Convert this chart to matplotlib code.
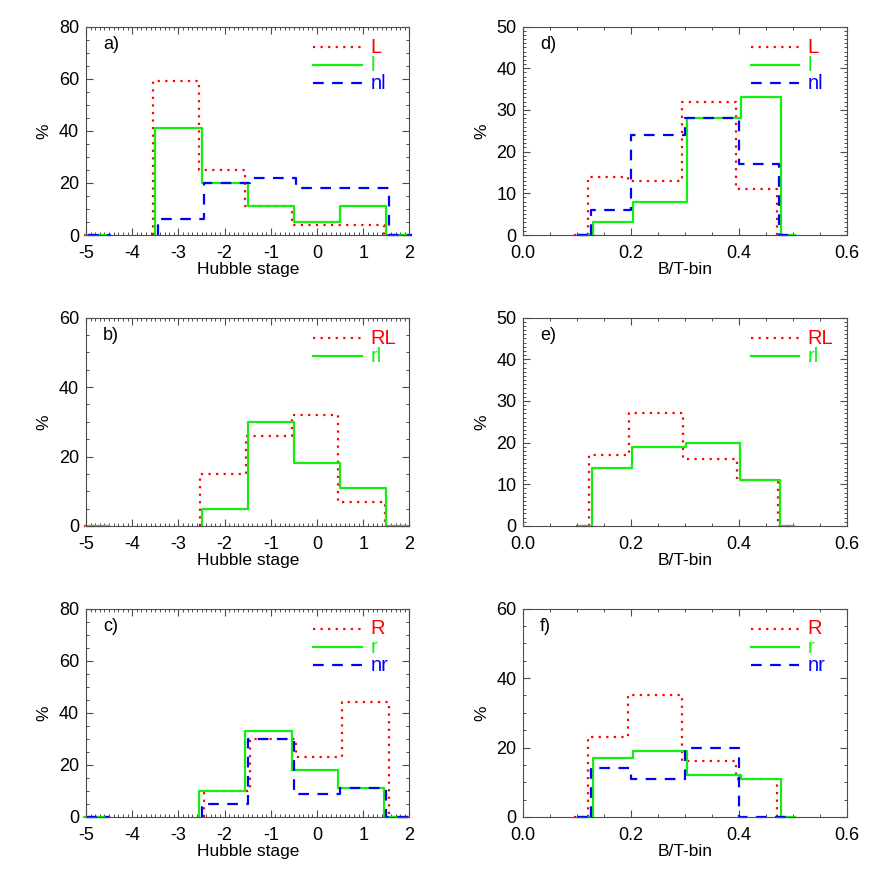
import numpy as np
import matplotlib
matplotlib.use('Agg')
from matplotlib import pyplot as plt
from matplotlib.ticker import MultipleLocator, FormatStrFormatter

plt.rcParams['font.family'] = ['Liberation Sans', 'DejaVu Sans']
plt.rcParams['axes.unicode_minus'] = False

# bin edges
hub_edges_a = [-3.5, -2.5, -1.5, -0.5, 0.5, 1.5]
hub_edges_bc = [-2.5, -1.5, -0.5, 0.5, 1.5]
bt_edges = [0.125, 0.2, 0.3, 0.4, 0.475]

# a) Hubble stage, L / l / nl
L_hub = [59, 25, 11, 4, 4]
l_hub = [41, 20, 11, 5, 11]
nl_hub = [6, 20, 22, 18, 18]
# b) Hubble stage, RL / rl
RL_hub = [15, 26, 32, 7]
rl_hub = [5, 30, 18, 11]
# c) Hubble stage, R / r / nr
R_hub = [10, 30, 23, 44]
r_hub = [10, 33, 18, 11]
nr_hub = [5, 30, 9, 11]
# d) B/T, L / l / nl
L_bt = [14, 13, 32, 11]
l_bt = [3, 8, 28, 33]
nl_bt = [6, 24, 28, 17]
# e) B/T, RL / rl
RL_bt = [17, 27, 16, 11]
rl_bt = [14, 19, 20, 11]
# f) B/T, R / r / nr
R_bt = [23, 35, 16, 11]
r_bt = [17, 19, 12, 11]
nr_bt = [14, 11, 20, 0]

RED = '#ff0000'
GREEN = '#11f011'
BLUE = '#0000ff'
styles = {
	'red': dict(color=RED, lw=1.6, linestyle=(0, (1, 2.4)), dash_capstyle='butt'),
	'green': dict(color=GREEN, lw=1.6, linestyle='-'),
	'blue': dict(color=BLUE, lw=1.6, linestyle=(0, (4.8, 3.8))),
}

def step_line(ax, edges, vals, xmin, xmax, tail, off, st):
	xs = [edges[0]]
	ys = [0]
	for i in range(len(vals)):
		xs += [edges[i], edges[i+1]]
		ys += [vals[i], vals[i]]
	xs += [edges[-1], xmax]
	ys += [0, 0]
	xs = np.array(xs) + off
	ax.plot(xs, ys, clip_on=False, **styles[st])
	ax.plot([xmin+off, xmin+tail+off], [0, 0], clip_on=False, **styles[st])

def legend(ax, names, sts):
	ys = [0.902, 0.814, 0.727]
	for i in range(len(names)):
		ax.plot([0.703, 0.853], [ys[i], ys[i]], transform=ax.transAxes, **styles[sts[i]])
		ax.text(0.879, ys[i], names[i], transform=ax.transAxes, color=styles[sts[i]]['color'],
			fontsize=14.5, va='center', ha='left')

def setup(ax, hubble, ymax, ymaj, ymin_, tag):
	if hubble:
		ax.set_xlim(-5, 2)
		ax.xaxis.set_major_locator(MultipleLocator(1))
		ax.xaxis.set_minor_locator(MultipleLocator(0.1))
		ax.set_xlabel('Hubble stage', fontsize=12.5, labelpad=0)
	else:
		ax.set_xlim(0, 0.6)
		ax.xaxis.set_major_locator(MultipleLocator(0.2))
		ax.xaxis.set_minor_locator(MultipleLocator(0.05))
		ax.xaxis.set_major_formatter(FormatStrFormatter('%.1f'))
		ax.set_xlabel('B/T-bin', fontsize=12.5, labelpad=0)
	ax.set_ylim(0, ymax)
	ax.yaxis.set_major_locator(MultipleLocator(ymaj))
	ax.yaxis.set_minor_locator(MultipleLocator(ymin_))
	ax.set_ylabel('%', fontsize=12.5, labelpad=5)
	ax.tick_params(which='both', direction='in', top=True, right=True, color='0.3')
	ax.tick_params(which='major', length=5, width=0.8, labelsize=13, pad=7)
	ax.tick_params(axis='y', which='major', pad=5)
	ax.tick_params(which='minor', length=2.5, width=0.7)
	for s in ax.spines.values():
		s.set_color('0.3')
		s.set_linewidth(0.8)
	ax.text(0.052, 0.915, tag, transform=ax.transAxes, fontsize=13, va='center', ha='left')

fig = plt.figure(figsize=(8.72, 8.72), dpi=100)
lefts = [0.0986, 0.600]
bottoms = [0.7305, 0.3968, 0.0631]
w = 0.371
h = 0.239

# a)
ax = fig.add_axes([lefts[0], bottoms[0], w, h])
setup(ax, True, 80, 20, 5, 'a)')
step_line(ax, hub_edges_a, L_hub, -5, 2, 0.5, -0.05, 'red')
step_line(ax, hub_edges_a, l_hub, -5, 2, 0.5, 0.0, 'green')
step_line(ax, hub_edges_a, nl_hub, -5, 2, 0.5, 0.05, 'blue')
legend(ax, ['L', 'l', 'nl'], ['red', 'green', 'blue'])

# b)
ax = fig.add_axes([lefts[0], bottoms[1], w, h])
setup(ax, True, 60, 20, 5, 'b)')
step_line(ax, hub_edges_bc, RL_hub, -5, 2, 0.5, -0.04, 'red')
step_line(ax, hub_edges_bc, rl_hub, -5, 2, 0.5, 0.0, 'green')
legend(ax, ['RL', 'rl'], ['red', 'green'])

# c)
ax = fig.add_axes([lefts[0], bottoms[2], w, h])
setup(ax, True, 80, 20, 5, 'c)')
step_line(ax, hub_edges_bc, R_hub, -5, 2, 0.5, 0.05, 'red')
step_line(ax, hub_edges_bc, r_hub, -5, 2, 0.5, -0.05, 'green')
step_line(ax, hub_edges_bc, nr_hub, -5, 2, 0.5, 0.0, 'blue')
legend(ax, ['R', 'r', 'nr'], ['red', 'green', 'blue'])

# d)
ax = fig.add_axes([lefts[1], bottoms[0], w, h])
setup(ax, False, 50, 10, 1, 'd)')
step_line(ax, bt_edges, L_bt, 0.1, 0.5, 0.025, -0.005, 'red')
step_line(ax, bt_edges, l_bt, 0.1, 0.5, 0.025, 0.004, 'green')
step_line(ax, bt_edges, nl_bt, 0.1, 0.5, 0.025, 0.0, 'blue')
legend(ax, ['L', 'l', 'nl'], ['red', 'green', 'blue'])

# e)
ax = fig.add_axes([lefts[1], bottoms[1], w, h])
setup(ax, False, 50, 10, 1, 'e)')
step_line(ax, bt_edges, RL_bt, 0.1, 0.5, 0.025, -0.003, 'red')
step_line(ax, bt_edges, rl_bt, 0.1, 0.5, 0.025, 0.002, 'green')
legend(ax, ['RL', 'rl'], ['red', 'green'])

# f)
ax = fig.add_axes([lefts[1], bottoms[2], w, h])
setup(ax, False, 60, 20, 5, 'f)')
step_line(ax, bt_edges, R_bt, 0.1, 0.5, 0.025, -0.005, 'red')
step_line(ax, bt_edges, r_bt, 0.1, 0.5, 0.025, 0.004, 'green')
step_line(ax, bt_edges, nr_bt, 0.1, 0.5, 0.025, 0.0, 'blue')
legend(ax, ['R', 'r', 'nr'], ['red', 'green', 'blue'])

plt.savefig('out.png', dpi=100)
